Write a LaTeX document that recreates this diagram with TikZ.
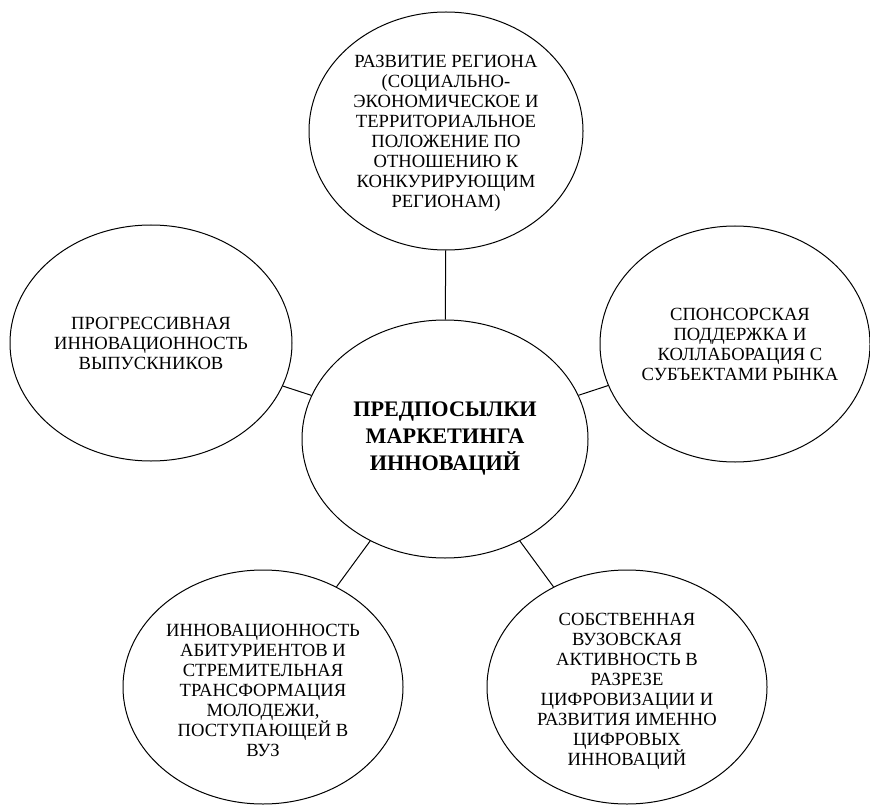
\documentclass[tikz,border=0pt]{standalone}
\usepackage{fontspec}
\setmainfont{LiberationSerif}[Extension=.ttf, UprightFont=*-Regular, BoldFont=*-Bold, ItalicFont=*-Italic, BoldItalicFont=*-BoldItalic]
\usepackage{tikz}
\usetikzlibrary{shapes.geometric}
\usetikzlibrary{positioning}

\tikzset{
  bubble/.style={draw, ellipse, line width=1pt, inner sep=0pt},
  bubtext/.style={align=center, inner sep=0pt, font=\fontsize{18.6}{20}\selectfont},
  maintext/.style={align=center, inner sep=0pt, font=\fontsize{22.2}{27}\selectfont\bfseries}
}

\begin{document}
\begin{tikzpicture}[x=1pt,y=-1pt]
\useasboundingbox (0,0) rectangle (870,805);
% Ellipses
\node[bubble, minimum width=286pt, minimum height=238pt] (centre) at (445,439) {};
\node[bubble, minimum width=274pt, minimum height=238pt] (region) at (446,131) {};
\node[bubble, minimum width=282pt, minimum height=236pt] (grads) at (151,343) {};
\node[bubble, minimum width=270pt, minimum height=236pt] (sponsor) at (735,344) {};
\node[bubble, minimum width=280pt, minimum height=234pt] (entrants) at (263,687) {};
\node[bubble, minimum width=280pt, minimum height=234pt] (univ) at (627,687) {};
% Texts
\node[maintext] (centretxt) at (centre) {ПРЕДПОСЫЛКИ\\МАРКЕТИНГА\\ИННОВАЦИЙ};
\node[bubtext] (regiontxt) at ([yshift=-2pt]region.center) {РАЗВИТИЕ РЕГИОНА\\(СОЦИАЛЬНО-\\ЭКОНОМИЧЕСКОЕ И\\ТЕРРИТОРИАЛЬНОЕ\\ПОЛОЖЕНИЕ ПО\\ОТНОШЕНИЮ К\\КОНКУРИРУЮЩИМ\\РЕГИОНАМ)};
\node[bubtext] (gradstxt) at (grads) {ПРОГРЕССИВНАЯ\\ИННОВАЦИОННОСТЬ\\ВЫПУСКНИКОВ};
\node[bubtext] (sponsortxt) at ([xshift=5pt]sponsor.center) {СПОНСОРСКАЯ\\ПОДДЕРЖКА И\\КОЛЛАБОРАЦИЯ С\\СУБЪЕКТАМИ РЫНКА};
\node[bubtext] (entrantstxt) at ([yshift=-3pt]entrants.center) {ИННОВАЦИОННОСТЬ\\АБИТУРИЕНТОВ И\\СТРЕМИТЕЛЬНАЯ\\ТРАНСФОРМАЦИЯ\\МОЛОДЕЖИ,\\ПОСТУПАЮЩЕЙ В\\ВУЗ};
\node[bubtext] (univtxt) at ([yshift=-4pt]univ.center) {СОБСТВЕННАЯ\\ВУЗОВСКАЯ\\АКТИВНОСТЬ В\\РАЗРЕЗЕ\\ЦИФРОВИЗАЦИИ И\\РАЗВИТИЯ ИМЕННО\\ЦИФРОВЫХ\\ИННОВАЦИЙ};
% Connectors
\draw[line width=1pt] (region) -- (centre);
\draw[line width=1pt] (grads) -- (centre);
\draw[line width=1pt] (sponsor) -- (centre);
\draw[line width=1pt] (entrants) -- (centre);
\draw[line width=1pt] (univ) -- (centre);
\end{tikzpicture}
\end{document}
